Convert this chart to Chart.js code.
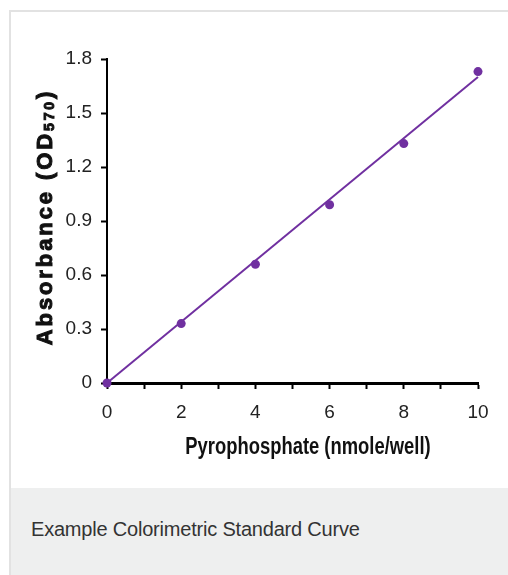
<!DOCTYPE html>
<html>
<head>
<meta charset="utf-8">
<script src="https://cdn.jsdelivr.net/npm/chart.js@4/dist/chart.umd.min.js"></script>
<style>
  body { margin: 0; background: #fff; width: 508px; height: 575px; overflow: hidden; position: relative; }
  #frame { position: absolute; left: 9px; top: 10px; width: 510px; height: 476px; border-top: 2px solid #e2e2e2; border-left: 2px solid #e2e2e2; background: #fff; }
  #chart-wrap { position: absolute; left: 0; top: 0; width: 508px; height: 488px; }
  #caption { position: absolute; left: 9px; top: 488px; width: 510px; height: 87px; background: #eeefef; border-left: 2px solid #e2e2e2; }
  #caption span { position: absolute; left: 20px; top: 30px; font-family: "Liberation Sans", Arial, sans-serif; font-size: 20px; color: #333; letter-spacing: -0.2px; }
</style>
</head>
<body>
<div id="frame"></div>
<div id="chart-wrap"><canvas id="curve"></canvas></div>
<div id="caption"><span>Example Colorimetric Standard Curve</span></div>
<script>
// standard points
const pyrophosphate = [0, 2, 4, 6, 8, 10];
const absorbance = [0, 0.33, 0.66, 0.99, 1.33, 1.73];
// fitted line ends
const fitX = [0, 10];
const fitY = [0, 1.70];
const xTitle = "Pyrophosphate (nmole/well)";
const yTitle = "Absorbance (OD";
const ySub = "570";

const purple = "#7030a0";
const sans = "'Liberation Sans', Arial, sans-serif";

function toPoints(xs, ys){
    return xs.map(function(x, i){ return { x: x, y: ys[i] }; });
}

const titlesPlugin = {
    id: "titles",
    afterDraw: function(chart){
        const ctx = chart.ctx;
        // x title, squeezed to look like a narrow face
        ctx.save();
        ctx.fillStyle = "#111";
        ctx.font = "bold 23px " + sans;
        ctx.textAlign = "center";
        ctx.textBaseline = "middle";
        ctx.translate(308, 448);
        ctx.scale(0.8, 1);
        ctx.fillText(xTitle, 0, 0);
        ctx.restore();

        // y title with subscript, rotated; heavy face faked with a stroke
        ctx.save();
        ctx.fillStyle = "#111";
        ctx.strokeStyle = "#111";
        ctx.lineWidth = 1;
        ctx.translate(46, 217);
        ctx.rotate(-Math.PI / 2);
        ctx.textBaseline = "middle";
        ctx.textAlign = "left";
        ctx.letterSpacing = "2.9px";
        ctx.font = "bold 22px " + sans;
        const w1 = ctx.measureText(yTitle).width;
        ctx.font = "bold 14px " + sans;
        const w2 = ctx.measureText(ySub).width;
        ctx.font = "bold 22px " + sans;
        const w3 = ctx.measureText(")").width;
        const x0 = -(w1 + w2 + w3) / 2;
        ctx.fillText(yTitle, x0, 0);
        ctx.strokeText(yTitle, x0, 0);
        ctx.font = "bold 14px " + sans;
        ctx.fillText(ySub, x0 + w1, 4);
        ctx.strokeText(ySub, x0 + w1, 4);
        ctx.font = "bold 22px " + sans;
        ctx.fillText(")", x0 + w1 + w2, 0);
        ctx.strokeText(")", x0 + w1 + w2, 0);
        ctx.restore();
    }
};

const config = {
    type: "scatter",
    data: {
        datasets: [{
            label: "Fit",
            data: toPoints(fitX, fitY),
            showLine: true,
            borderColor: purple,
            borderWidth: 2,
            pointRadius: 0,
            clip: false
        }, {
            label: "Standards",
            data: toPoints(pyrophosphate, absorbance),
            backgroundColor: purple,
            borderColor: purple,
            borderWidth: 0,
            pointRadius: 4.5,
            clip: false
        }]
    },
    options: {
        responsive: true,
        maintainAspectRatio: false,
        animation: false,
        layout: {
            padding: { left: 0, top: 59, right: 30, bottom: 0 }
        },
        plugins: {
            legend: { display: false },
            tooltip: { enabled: false }
        },
        scales: {
            x: {
                type: "linear",
                min: 0,
                max: 10,
                afterFit: function(scale){ scale.height = 105; },
                ticks: {
                    stepSize: 1,
                    autoSkip: false,
                    maxRotation: 0,
                    padding: 12,
                    color: "#222",
                    font: { family: sans, size: 19 },
                    callback: function(value){
                        return value % 2 === 0 ? value : "";
                    }
                },
                grid: {
                    drawOnChartArea: false,
                    drawTicks: true,
                    tickLength: 6,
                    tickWidth: 2,
                    tickColor: "#000"
                },
                border: { color: "#000", width: 3 }
            },
            y: {
                min: 0,
                max: 1.8,
                afterFit: function(scale){ scale.width = 107; },
                ticks: {
                    stepSize: 0.3,
                    padding: 9,
                    color: "#222",
                    font: { family: sans, size: 19 },
                    callback: function(value){
                        return value === 0 ? "0" : value.toFixed(1);
                    }
                },
                grid: {
                    drawOnChartArea: false,
                    drawTicks: true,
                    tickLength: 6,
                    tickWidth: 2,
                    tickColor: "#000"
                },
                border: { color: "#000", width: 2 }
            }
        }
    },
    plugins: [titlesPlugin]
};

new Chart(document.getElementById("curve"), config);
</script>
</body>
</html>
